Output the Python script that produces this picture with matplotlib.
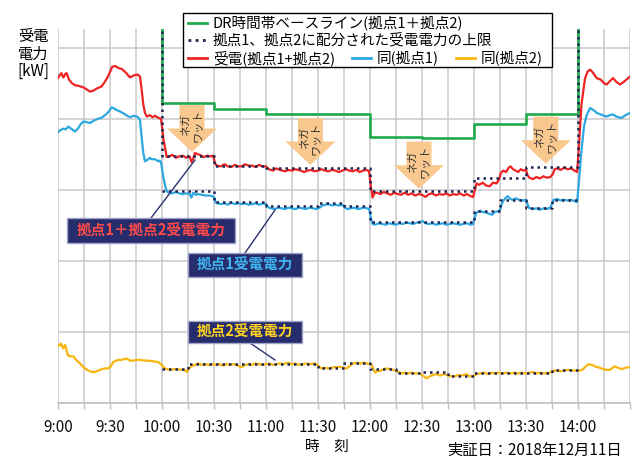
import matplotlib
matplotlib.use("Agg")
import matplotlib.pyplot as plt
from matplotlib.patches import Rectangle, Polygon
from matplotlib.lines import Line2D

plt.rcParams['font.family'] = ['Noto Sans CJK JP', 'DejaVu Sans']

# time axis: minutes after 9:00
tick_min = list(range(0, 331, 15))
tick_lbl = ['9:00', '', '9:30', '', '10:00', '', '10:30', '', '11:00', '', '11:30', '',
            '12:00', '', '12:30', '', '13:00', '', '13:30', '', '14:00', '', '']

# received power, site1 + site2
t_red = [0, 1, 2, 3, 3.5, 4.2, 5, 6.3, 8, 9.8, 12, 14.6, 16, 18.5, 20, 22.9, 25, 27.1, 29, 31.3,
         33, 35, 36.7, 39, 41.5, 44, 46, 47.3, 48.3, 49.2, 50.2, 51.2, 53, 54.5, 56, 58, 59.4, 60.2,
         60.7, 61.7, 62.7,
         64, 66, 68, 70, 72, 74, 76, 77, 78, 79, 80.5, 82, 84, 86, 88, 89.5, 90.5, 91.5, 94, 96, 98,
         100, 102, 104, 106, 108, 110, 112, 114, 116, 118, 120,
         121.5, 124, 126, 128, 131, 133, 135, 137, 140, 142, 144, 146, 148, 150, 152, 154, 156, 158,
         160, 162, 164, 166, 168, 170, 172, 174, 176, 178, 179.5,
         180.5, 181.5, 182.5, 184, 186, 188, 190, 192, 194, 196, 198, 200, 202, 204, 206, 208, 210,
         212, 214, 216, 218, 220, 222, 224, 226, 228, 230, 232, 234, 236, 238, 239.5,
         240.5, 241.5, 243, 245, 247, 249, 251, 253, 254.5, 255.5, 257, 258.5, 260, 261, 262.5, 264,
         265.5, 267, 268.5, 270, 271, 272, 274, 276, 278, 280, 282, 284, 285.5, 286.5, 288, 290, 292,
         294, 296, 298, 299.5,
         300.5, 302, 304, 305.5, 307, 308.5, 310.8, 313, 315, 316.5, 318.5, 320.2, 322, 324.2, 326,
         328, 330]
p_red = [457, 461, 464, 458, 459, 463, 464, 455, 450, 447, 446, 444, 442, 438, 439, 443, 445, 452, 460, 473,
         474, 471, 470, 465, 458, 461, 462, 459, 440, 420, 408, 403, 405, 402, 404, 401, 400, 385,
         373, 360, 346,
         347, 349, 345, 347, 348, 345, 347, 339, 344, 352, 350, 349, 346, 348, 347, 348, 338, 334, 333, 336, 333,
         332, 335, 333, 333, 336, 334, 334, 332, 335, 333, 333,
         329, 327, 330, 328, 326, 328, 327, 329, 327, 325, 327, 328, 326, 327, 329, 327, 326, 328,
         327, 325, 327, 329, 327, 326, 328, 325, 327, 328, 326,
         305, 289, 295, 296, 294, 297, 295, 293, 296, 294, 293, 296, 293, 295, 292, 294, 293,
         290, 294, 295, 292, 294, 293, 295, 292, 294, 293, 295, 292, 294, 291, 290,
         300, 309, 307, 310, 306, 305, 310, 309, 315, 324, 327, 325, 331, 333, 329, 327,
         325, 329, 327, 328, 320, 317, 315, 318, 316, 319, 317, 318, 322, 329, 330, 328, 331,
         329, 330, 327, 325,
         360, 420, 456, 466, 469, 465, 457, 455, 450, 448, 453, 457, 452, 448, 451,
         455, 459]

# received power, site1
t_blue = [0, 1.5, 3.1, 4.5, 5.9, 7.5, 9.8, 11.5, 13, 14.6, 16.5, 18.5, 20.5, 23.2, 25, 27.1, 29, 31,
          32.5, 34, 35.8, 38, 40, 41.5, 43.5, 45.4, 46.5, 47.3, 48.2, 49.2, 50.2, 51.5, 53, 54, 56, 58,
          58.8, 59.5, 60.7, 61.7, 62.7,
          64, 66, 68, 70, 72, 74, 76, 77, 78, 79.5, 81, 83, 85, 87, 89, 90, 91, 92, 94, 96, 98, 100,
          102, 104, 106, 108, 110, 112, 114, 116, 118, 120,
          121.5, 123, 125, 127, 129, 131, 133, 135, 137, 139, 141, 143, 145, 147, 149, 151, 152.5,
          154, 156, 158, 160, 162, 164, 165.5, 167, 169, 171, 173, 175, 177, 179.5,
          180.5, 181.5, 183, 185, 187, 189, 191, 193, 195, 197, 199, 201, 203, 205, 207, 209, 210.5,
          212, 214, 216, 218, 220, 222, 224, 226, 228, 230, 232, 234, 236, 238, 239.5,
          240.5, 241.5, 243, 245, 247, 249, 250.5, 252, 254, 255, 256, 257, 258, 259.5, 261, 262.5,
          264, 266, 268, 270, 271, 272, 274, 276, 278, 280, 282, 284, 285, 286, 288, 290, 292, 294,
          296, 298, 299.5,
          300.5, 302, 303.5, 305, 307, 309, 310.8, 313, 316.5, 318.5, 320.2, 322, 325, 327.5, 330]
p_blue = [381, 384, 386, 385, 389, 386, 382, 386, 392, 396, 395, 394, 397, 400, 401, 405, 409, 416,
          414, 412, 410, 407, 404, 402, 404, 403, 401, 398, 375, 352, 340, 342, 345, 343, 343, 340,
          341, 338, 319, 307, 298,
          296, 295, 297, 295, 294, 295, 294, 289, 296, 293, 294, 293, 292, 292, 291, 290, 282, 281, 280, 281, 279, 282,
          280, 281, 280, 281, 279, 280, 281, 279, 281, 280,
          275, 274, 273, 275, 274, 273, 275, 274, 273, 275, 274, 273, 275, 274, 273, 275, 278,
          279, 280, 278, 279, 278, 279, 275, 273, 274, 275, 273, 274, 275, 273,
          260, 252, 251, 253, 252, 251, 253, 252, 251, 253, 252, 254, 253, 252, 254, 255, 256,
          253, 252, 253, 251, 252, 253, 251, 252, 253, 252, 251, 252, 253, 251, 252,
          262, 268, 270, 269, 268, 266, 265, 269, 270, 271, 280, 285, 288, 291, 287, 286,
          288, 286, 285, 286, 279, 274, 273, 274, 272, 274, 273, 275, 280, 286, 287, 285, 286, 285,
          286, 284, 283,
          310, 355, 390, 405, 415, 412, 408, 406, 403, 405, 406, 403, 401, 405, 408]

# received power, site2
t_yel = [0, 1, 1.7, 2.4, 3.1, 3.6, 4, 4.6, 5.6, 7, 8.8, 10.5, 12.7, 15, 17.5, 19.5, 21.3, 23.3, 25.2,
         27, 29, 30.5, 31.9, 33.5, 35, 36.7, 38, 39.6, 41.5, 43.4, 45.5, 47.3, 49.5, 52.1, 55, 57.9,
         59.8, 61.7,
         63, 65, 67, 69, 71, 73, 74.4, 75.5, 77, 79, 80.8, 83, 85, 87, 89, 91, 93, 95, 97, 99, 101,
         103, 104.5, 106, 108, 110, 112, 113.7, 116, 118, 120, 122, 124, 126, 128, 130, 132.7, 135,
         137, 139, 141, 143, 145, 148.3, 150, 152, 154, 156, 158, 160, 162.7, 164.5, 166.6, 168.5,
         170.4, 172.5, 174.5, 176, 178, 180, 181, 182, 183, 184.5, 185.5, 187.7, 189.5, 191.5,
         193.5, 195.5, 198.3, 200, 202, 204, 206, 208.8, 210.5, 212.7, 214.5, 216.5, 218.5, 220.5,
         222.5, 224.2, 226.5, 229, 231, 233, 235.8, 237.5, 239.6, 241.5, 243.5, 246, 248, 250, 252,
         254, 256, 258.8, 261, 263, 265, 267, 270.4, 272, 274.2, 276, 278, 280, 283.8, 285.8, 288,
         290, 292, 294, 297.3, 299, 301.2, 303, 304.5, 306, 308, 310.8, 312.5, 314.6, 316.5, 318.5,
         320, 321.3, 323, 325.2, 327.5, 330]
p_yel = [80, 82, 84, 80, 77, 80, 82, 78, 68, 66, 66, 61, 56, 50, 46, 44, 44, 46, 48,
         49, 49, 52, 58, 60, 61, 61, 62, 63, 60, 60, 61, 61, 60, 60, 59, 58,
         54, 49,
         48, 47, 48, 48, 47, 47, 44, 49, 52, 54, 56, 54, 55, 54, 55, 54, 55, 53, 55, 54, 55,
         54, 52, 51, 54, 55, 54, 56, 55, 54, 55, 56, 54, 55, 56, 55, 57, 55,
         56, 54, 55, 56, 55, 56, 53, 49, 50, 49, 50, 51, 51, 50, 49, 53,
         56, 57, 56, 57, 56, 55, 54, 48, 43, 46, 45, 48, 49, 48,
         47, 45, 42, 43, 42, 43, 42, 42, 39, 35, 38, 40, 41, 39,
         41, 40, 38, 38, 40, 39, 41, 38, 38, 41, 42, 43, 41, 43, 42,
         43, 42, 43, 42, 43, 42, 43, 42, 43, 44, 42, 43, 42, 43, 46, 46,
         45, 46, 47, 46, 46, 46, 48, 52, 55, 54, 51, 50, 48, 47, 47,
         50, 52, 50, 48, 50, 51]

# DR baseline (site1 + site2)
t_base = [60, 60, 90, 90, 120, 120, 180, 180, 210, 210, 240, 240, 270, 270, 300, 300]
p_base = [560, 422, 422, 413, 413, 406, 406, 374.5, 374.5, 372.5, 372.5, 392, 392, 406, 406, 560]

# allotted upper limits
t_lim_tot = [60, 60, 90, 90, 120, 120, 180, 180, 240, 240, 270, 270, 300, 300]
p_lim_tot = [560, 348, 348, 334, 334, 331, 331, 298, 298, 316, 316, 332, 332, 560]
t_lim1 = [60, 90, 90, 120, 120, 150, 150, 165, 165, 180, 180, 240, 240, 255, 255, 270, 270, 285, 285, 300]
p_lim1 = [298, 298, 283, 283, 277, 277, 281, 281, 277, 277, 255, 255, 270, 270, 286, 286, 274, 274, 285, 285]
t_lim2 = [60, 75, 75, 150, 150, 165, 165, 180, 180, 195, 195, 210, 210, 225, 225, 240, 240, 285, 285, 300]
p_lim2 = [48, 48, 55, 55, 49, 49, 56, 56, 48, 48, 43, 43, 44, 44, 39, 39, 42, 42, 47, 47]

# negawatt arrows: centre x and top y (pixels)
arrow_cx = [192, 310.5, 419, 545.8]
arrow_top = [105, 118, 141.7, 116.7]

W, H = 634, 459
GREEN, RED, BLUE, YEL, NAVY = '#1FAA4C', '#EE2323', '#2DA7E0', '#F7B50F', '#1E2350'
BOXC = '#262C6C'


def fx(x):
    return x / W


def fy(y):
    return 1 - y / H


fig = plt.figure(figsize=(6.34, 4.59), dpi=100)
ax = fig.add_axes([fx(58), fy(403.3), (630 - 58) / W, (403.3 - 29) / H])

ax.plot(t_base, p_base, color=GREEN, lw=1.9, zorder=3)
ax.plot(t_red, p_red, color=RED, lw=1.6, zorder=4)
ax.plot(t_blue, p_blue, color=BLUE, lw=1.6, zorder=4)
ax.plot(t_yel, p_yel, color=YEL, lw=1.6, zorder=4)
for t, p in [(t_lim_tot, p_lim_tot), (t_lim1, p_lim1), (t_lim2, p_lim2)]:
    ax.plot(t, p, color=NAVY, lw=1.8, ls=(0, (1, 1.6)), zorder=5)

ax.set_xlim(0, 330)
ax.set_ylim(0, 526)
ax.set_xticks(tick_min)
ax.set_xticklabels(tick_lbl, fontsize=11)
ax.set_yticks([0, 100, 200, 300, 400, 500])
ax.set_yticklabels([])
ax.tick_params(axis='y', length=0)
ax.tick_params(axis='x', length=4, width=1, color='#BFBFBF', pad=7, labelcolor='#111111')
ax.grid(True, color='#C9C9C9', lw=1.1)
ax.set_axisbelow(True)
for s in ['top', 'right', 'left']:
    ax.spines[s].set_visible(False)
ax.spines['bottom'].set_color('#BFBFBF')
ax.spines['bottom'].set_linewidth(1.1)

# legend box
fig.add_artist(Rectangle((fx(183), fy(66.7)), (552 - 183) / W, 54 / H, transform=fig.transFigure,
                         facecolor='white', edgecolor='black', lw=1, zorder=10))
leg = [(22.5, 188, 'DR時間帯ベースライン(拠点1＋拠点2)', GREEN, '-'),
       (40, 188, '拠点1、拠点2に配分された受電電力の上限', NAVY, ':'),
       (57.8, 188, '受電(拠点1+拠点2)', RED, '-'),
       (57.8, 352, '同(拠点1)', BLUE, '-'),
       (57.8, 456, '同(拠点2)', YEL, '-')]
for y, x0, txt, c, ls in leg:
    lsty = (0, (1, 1.6)) if ls == ':' else '-'
    fig.add_artist(Line2D([fx(x0), fx(x0 + 19)], [fy(y), fy(y)], transform=fig.transFigure,
                          color=c, lw=2, ls=lsty, zorder=11))
    fig.text(fx(x0 + 25), fy(y), txt, fontsize=10.5, ha='left', va='center', zorder=11)

# negawatt arrows
for cx, top in zip(arrow_cx, arrow_top):
    pts = [(cx - 12.5, top), (cx + 12.5, top), (cx + 12.5, top + 23.5), (cx + 25, top + 23.5),
           (cx, top + 47), (cx - 25, top + 23.5), (cx - 12.5, top + 23.5)]
    fig.add_artist(Polygon([(fx(a), fy(b)) for a, b in pts], closed=True, transform=fig.transFigure,
                           facecolor='#F9C88E', edgecolor='none', zorder=6))
    fig.text(fx(cx), fy(top + 20), 'ネガ\nワット', rotation=90, fontsize=8, color='#333333',
             ha='center', va='center', linespacing=1.1, zorder=7)

# callout boxes
callouts = [((67, 218, 235, 243), '拠点1＋拠点2受電電力', '#FF4A4A', (151, 218), (195, 160)),
            ((188, 253, 302, 277), '拠点1受電電力', '#3FB6F0', (245, 253), (275, 210)),
            ((188, 321, 302, 343), '拠点2受電電力', '#FFD21F', (250, 343), (275, 360))]
for (x0, y0, x1, y1), txt, c, p0, p1 in callouts:
    fig.add_artist(Line2D([fx(p0[0]), fx(p1[0])], [fy(p0[1]), fy(p1[1])], transform=fig.transFigure,
                          color='#2B3270', lw=1, zorder=8))
    fig.add_artist(Rectangle((fx(x0), fy(y1)), (x1 - x0) / W, (y1 - y0) / H, transform=fig.transFigure,
                             facecolor=BOXC, edgecolor='#A0A4C8', lw=1, zorder=8))
    fig.text(fx((x0 + x1) / 2), fy((y0 + y1) / 2), txt, color=c, fontsize=10.5, fontweight='bold',
             ha='center', va='center', zorder=9)

fig.text(fx(33), fy(54), '受電\n電力\n[kW]', fontsize=11, ha='center', va='center', linespacing=1.02)
fig.text(fx(327), fy(447), '時　刻', fontsize=10.5, ha='center', va='center')
fig.text(fx(622), fy(450), '実証日：2018年12月11日', fontsize=11, ha='right', va='center')

fig.savefig('out.png', dpi=100)
